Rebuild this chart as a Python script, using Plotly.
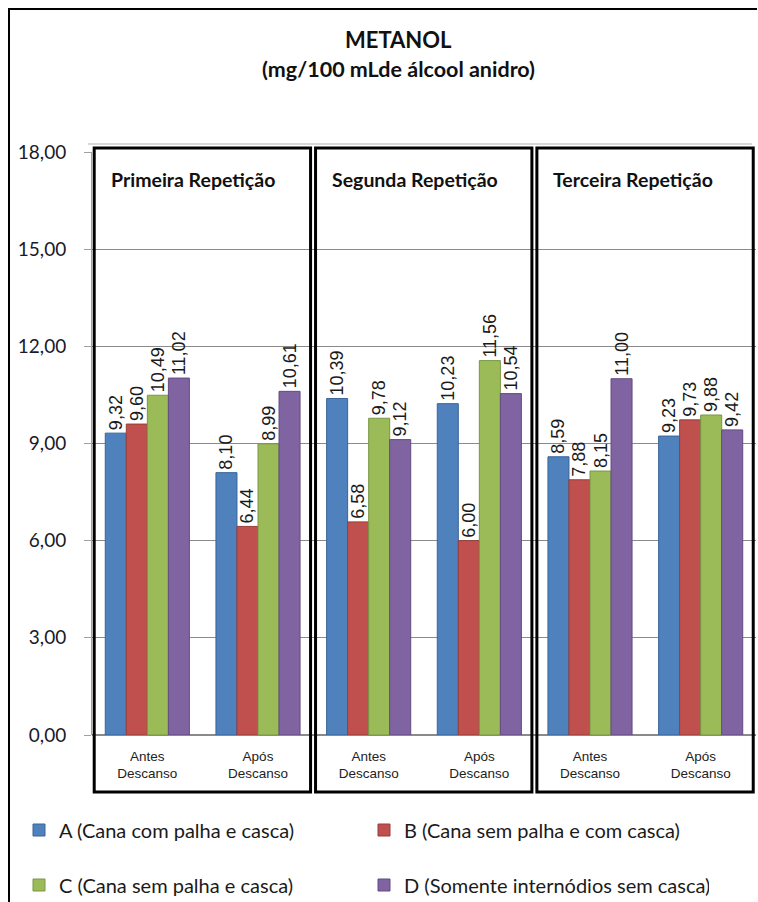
import plotly.graph_objects as go

# ---- data ----
categories = ["Antes<br>Descanso", "Após<br>Descanso",
              "Antes<br>Descanso", "Após<br>Descanso",
              "Antes<br>Descanso", "Após<br>Descanso"]
repetitions = ["Primeira Repetição", "Segunda Repetição", "Terceira Repetição"]
series_names = ["A (Cana com palha e casca)", "B (Cana sem palha e com casca)",
                "C (Cana sem palha e casca)", "D (Somente internódios sem casca)"]
serie_a = [9.32, 8.10, 10.39, 10.23, 8.59, 9.23]
serie_b = [9.60, 6.44, 6.58, 6.00, 7.88, 9.73]
serie_c = [10.49, 8.99, 9.78, 11.56, 8.15, 9.88]
serie_d = [11.02, 10.61, 9.12, 10.54, 11.00, 9.42]
y_ticks = [0, 3, 6, 9, 12, 15, 18]

colors = ["#4F81BD", "#C0504D", "#9BBB59", "#8064A2"]
edge_colors = ["#3A6499", "#9B3C3A", "#7A9644", "#634B82"]
legend_ids = ["legend", "legend", "legend2", "legend2"]

W, H = 758, 902
ML, MR, MT, MB = 92, 2, 152, 167
PW = W - ML - MR
PH = H - MT - MB

def px_x(px):
    return (px - ML) / PW

def px_y(py):
    return (H - MB - py) / PH

xpos = list(range(len(categories)))

fig = go.Figure()
for name, vals, col, ecol, lg in zip(series_names, [serie_a, serie_b, serie_c, serie_d],
                                     colors, edge_colors, legend_ids):
    fig.add_trace(go.Bar(
        x=xpos, y=vals, name=name,
        marker=dict(color=col, line=dict(color=ecol, width=1)),
        text=vals, texttemplate="%{y:.2f}", textposition="outside",
        textangle=-90, constraintext="none", cliponaxis=False,
        textfont=dict(family="Liberation Sans, Arial", size=18, color="#1a1a1a"),
        legend=lg, hoverinfo="skip",
    ))

shapes = []
# top edge of the chart back wall
shapes.append(dict(type="line", xref="paper", yref="paper",
                   x0=px_x(88), x1=px_x(752), y0=px_y(144), y1=px_y(144),
                   line=dict(color="#b0b0b0", width=1), layer="below"))
# boxes around repetitions
for k in range(len(repetitions)):
    shapes.append(dict(type="rect", xref="x", yref="paper",
                       x0=2 * k - 0.5 + 0.02, x1=2 * k + 1.5 - 0.025,
                       y0=px_y(792), y1=px_y(148),
                       line=dict(color="black", width=3), layer="above"))
# chart outer border (left and top)
shapes.append(dict(type="line", xref="paper", yref="paper",
                   x0=px_x(9), x1=px_x(9), y0=px_y(9), y1=px_y(902),
                   line=dict(color="black", width=2)))
shapes.append(dict(type="line", xref="paper", yref="paper",
                   x0=px_x(8), x1=px_x(757), y0=px_y(9), y1=px_y(9),
                   line=dict(color="black", width=2)))

annotations = []
for k, rep in enumerate(repetitions):
    annotations.append(dict(text="<b>%s</b>" % rep, xref="x", yref="paper",
                            x=2 * k - 0.5 + 0.15, y=px_y(180),
                            xanchor="left", yanchor="middle", showarrow=False,
                            font=dict(family="Lato", size=19.5, color="#111111")))
annotations.append(dict(text="<b>METANOL</b>", xref="paper", yref="paper",
                        x=px_x(398), y=px_y(39), xanchor="center", yanchor="middle",
                        showarrow=False, font=dict(family="Lato", size=22, color="#111111")))
annotations.append(dict(text="<b>(mg/100 mLde álcool anidro)</b>", xref="paper", yref="paper",
                        x=px_x(398), y=px_y(69), xanchor="center", yanchor="middle",
                        showarrow=False, font=dict(family="Lato", size=21.5, color="#111111")))

fig.update_layout(
    width=W, height=H,
    margin=dict(l=ML, r=MR, t=MT, b=MB, autoexpand=False),
    paper_bgcolor="white", plot_bgcolor="white",
    separators=",.",
    barmode="group", bargap=0.24, bargroupgap=0,
    shapes=shapes, annotations=annotations,
    xaxis=dict(tickmode="array", tickvals=xpos, ticktext=categories,
               range=[-0.5, len(categories) - 0.5], showgrid=False,
               ticks="", ticklabelstandoff=11,
               tickfont=dict(family="Liberation Sans", size=13.5, color="#222222"),
               showline=False, zeroline=False),
    yaxis=dict(range=[0, 18], tickmode="array", tickvals=y_ticks, tickformat=".2f",
               showgrid=True, gridcolor="#8a8a8a", gridwidth=1,
               showline=True, linecolor="#a0a0a0", linewidth=1,
               ticks="outside", ticklen=7, tickcolor="#a0a0a0",
               ticklabelstandoff=14,
               tickfont=dict(family="Lato", size=19, color="#1a1a2a"),
               zeroline=True, zerolinecolor="#8a8a8a"),
    legend=dict(orientation="h", x=px_x(19), y=px_y(830), xanchor="left", yanchor="middle",
                entrywidth=300, entrywidthmode="pixels", bgcolor="rgba(0,0,0,0)",
                font=dict(family="Lato", size=20, color="#1a1a1a"), itemclick=False),
    legend2=dict(orientation="h", x=px_x(19), y=px_y(885), xanchor="left", yanchor="middle",
                 entrywidth=300, entrywidthmode="pixels", bgcolor="rgba(0,0,0,0)",
                 font=dict(family="Lato", size=20, color="#1a1a1a"), itemclick=False),
    showlegend=True,
)

fig.write_html("out.html")
